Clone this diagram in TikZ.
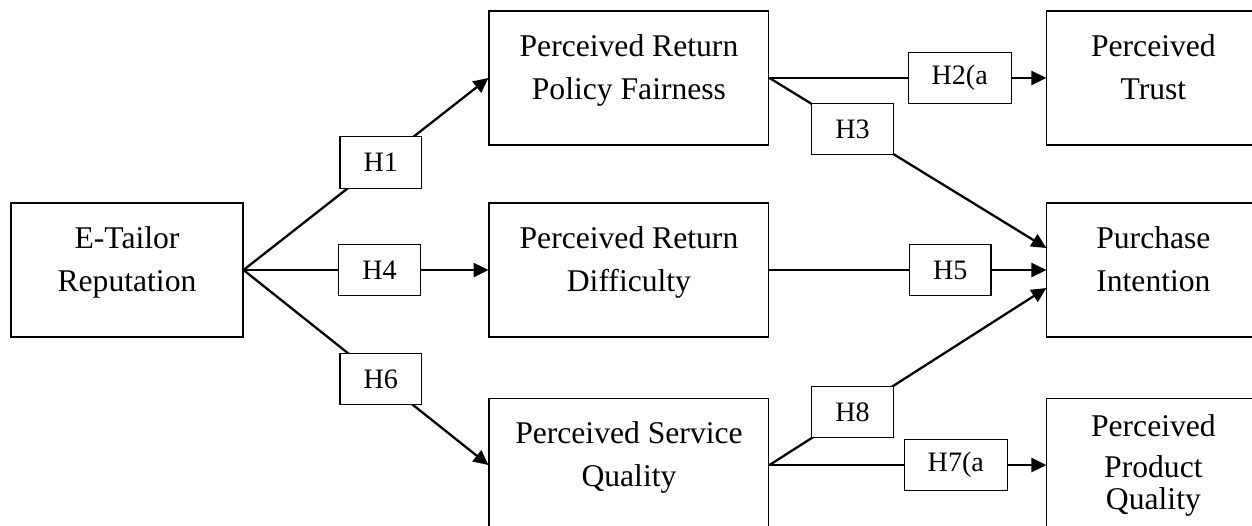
\documentclass[tikz,border=0pt]{standalone}
\usepackage{fontspec}
\setmainfont{Liberation Serif}
\usetikzlibrary{arrows.meta, positioning}
\tikzset{
    construct/.style={rectangle, draw, line width=0.6pt, minimum height=2.68cm, align=center, font=\fontsize{18}{24.5}\selectfont},
    padded/.style={execute at end node={\rule[-13pt]{0pt}{0pt}}},
    midbox/.style={construct, padded, minimum width=5.6cm},
    outbox/.style={construct, minimum width=4.26cm},
    hyp/.style={rectangle, draw, fill=white, line width=0.6pt, inner xsep=0.47cm, minimum height=1.03cm, font=\fontsize{16}{19}\selectfont},
    arrow/.style={-{Triangle[length=8.5pt, width=8pt]}, line width=1.3pt},
}

\begin{document}
\begin{tikzpicture}[x=0.02cm, y=-0.02cm, node distance=1.14cm and 4.9cm]
    \useasboundingbox (0,0) rectangle (1252,525);

    % === ANTECEDENT ===
    \node[construct, padded, minimum width=4.64cm] (etr) at (127,270) {E-Tailor\\Reputation};

    % === MEDIATORS ===
    \node[midbox, right=4.9cm of etr] (prd) {Perceived Return\\Difficulty};
    \node[midbox, above=1.14cm of prd] (prpf) {Perceived Return\\Policy Fairness};
    \node[midbox, below=1.2cm of prd] (psq) {Perceived Service\\Quality};

    % === OUTCOMES ===
    \node[outbox, padded, right=5.54cm of prd] (pi) {Purchase\\Intention};
    \node[outbox, padded, above=1.14cm of pi] (trust) {Perceived\\Trust};
    \node[outbox, below=1.2cm of pi, font=\fontsize{18}{23.3}\selectfont] (ppq) {Perceived\\Product\\[-5.1pt]Quality};

    % === HYPOTHESES ===
    \draw[arrow] (etr.east) -- node[hyp, pos=0.56] (h1) {H1} (prpf.west);
    \draw[arrow] (etr.east) -- node[hyp, pos=0.555] (h4) {H4} (prd.west);
    \draw[arrow] (etr.east) -- node[hyp, pos=0.56] (h6) {H6} (psq.west);
    \draw[arrow] (prpf.east) -- node[hyp, pos=0.687] (h2) {H2(a} (trust.west);
    \draw[arrow] (prpf.east) -- node[hyp, pos=0.30] (h3) {H3} ([yshift=0.44cm]pi.west);
    \draw[arrow] (prd.east) -- node[hyp, pos=0.653] (h5) {H5} (pi.west);
    \draw[arrow] (psq.east) -- node[hyp, pos=0.30] (h8) {H8} ([yshift=-0.36cm]pi.west);
    \draw[arrow] (psq.east) -- node[hyp, pos=0.673] (h7) {H7(a} (ppq.west);

\end{tikzpicture}
\end{document}
